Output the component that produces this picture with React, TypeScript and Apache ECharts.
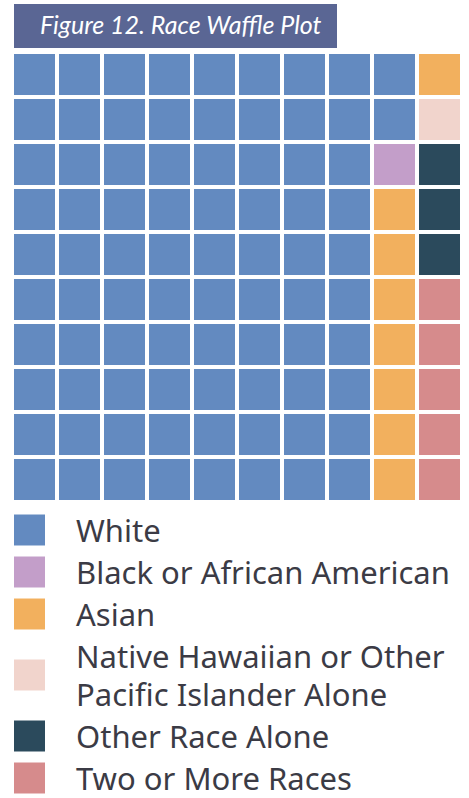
import React, { useEffect, useRef } from "react";
import * as echarts from "echarts";

const categories = [
  "White",
  "Black or African American",
  "Asian",
  "Native Hawaiian or Other\nPacific Islander Alone",
  "Other Race Alone",
  "Two or More Races",
];
const counts = [82, 1, 8, 1, 3, 5];
const colors = ["#638ac0", "#c39ec9", "#f2b05e", "#f1d4cc", "#2b4a5c", "#d68b8c"];
const titleText = "Figure 12. Race Waffle Plot";
const GRID_N = 10;

export default function App() {
  const ref = useRef<HTMLDivElement>(null);
  useEffect(() => {
    if (!ref.current) return;
    const chart = echarts.init(ref.current, null, { renderer: "svg" });
    let k = 0;
    const series = categories.map((name, ci) => {
      const data: number[][] = [];
      for (let i = 0; i < counts[ci]; i++) {
        const col = Math.floor(k / GRID_N);
        const row = k % GRID_N;
        data.push([col, row]);
        k++;
      }
      return {
        type: "custom",
        name,
        data,
        itemStyle: { color: colors[ci] },
        renderItem: (params: any, api: any) => {
          const c = api.value(0);
          const r = api.value(1);
          const p0 = api.coord([c, r]);
          const p1 = api.coord([c + 1, r + 1]);
          const gap = 4;
          return {
            type: "rect",
            shape: {
              x: Math.min(p0[0], p1[0]),
              y: Math.min(p0[1], p1[1]),
              width: Math.abs(p1[0] - p0[0]) - gap,
              height: Math.abs(p1[1] - p0[1]) - gap,
            },
            style: { fill: colors[ci] },
          };
        },
      };
    });
    chart.setOption({
      animation: false,
      grid: { left: 14, top: 54, width: 450, height: 450 },
      xAxis: { type: "value", min: 0, max: GRID_N, show: false },
      yAxis: { type: "value", min: 0, max: GRID_N, inverse: true, show: false },
      legend: {
        orient: "vertical",
        left: 14,
        top: 511,
        height: 290,
        padding: 0,
        itemWidth: 31,
        itemHeight: 31,
        itemGap: 4,
        icon: "rect",
        selectedMode: false,
        data: categories.map((n, i) => ({ name: n, itemStyle: { color: colors[i] } })),
        textStyle: {
          fontFamily: "Noto Sans",
          fontSize: 31,
          color: "#3b3b45",
          lineHeight: 38,
          padding: [0, 0, 0, 26],
        },
      },
      graphic: [
        {
          type: "rect",
          left: 14,
          top: 4,
          shape: { width: 323, height: 44 },
          style: { fill: "#5a6694" },
        },
        {
          type: "text",
          left: 40,
          top: 11,
          style: {
            text: titleText,
            fill: "#ffffff",
            font: "italic 25px Lato",
          },
        },
      ],
      series,
    });
    return () => chart.dispose();
  }, []);
  return (
    <div
      ref={ref}
      style={{ position: "absolute", left: 0, top: 0, width: 469, height: 798 }}
    />
  );
}
